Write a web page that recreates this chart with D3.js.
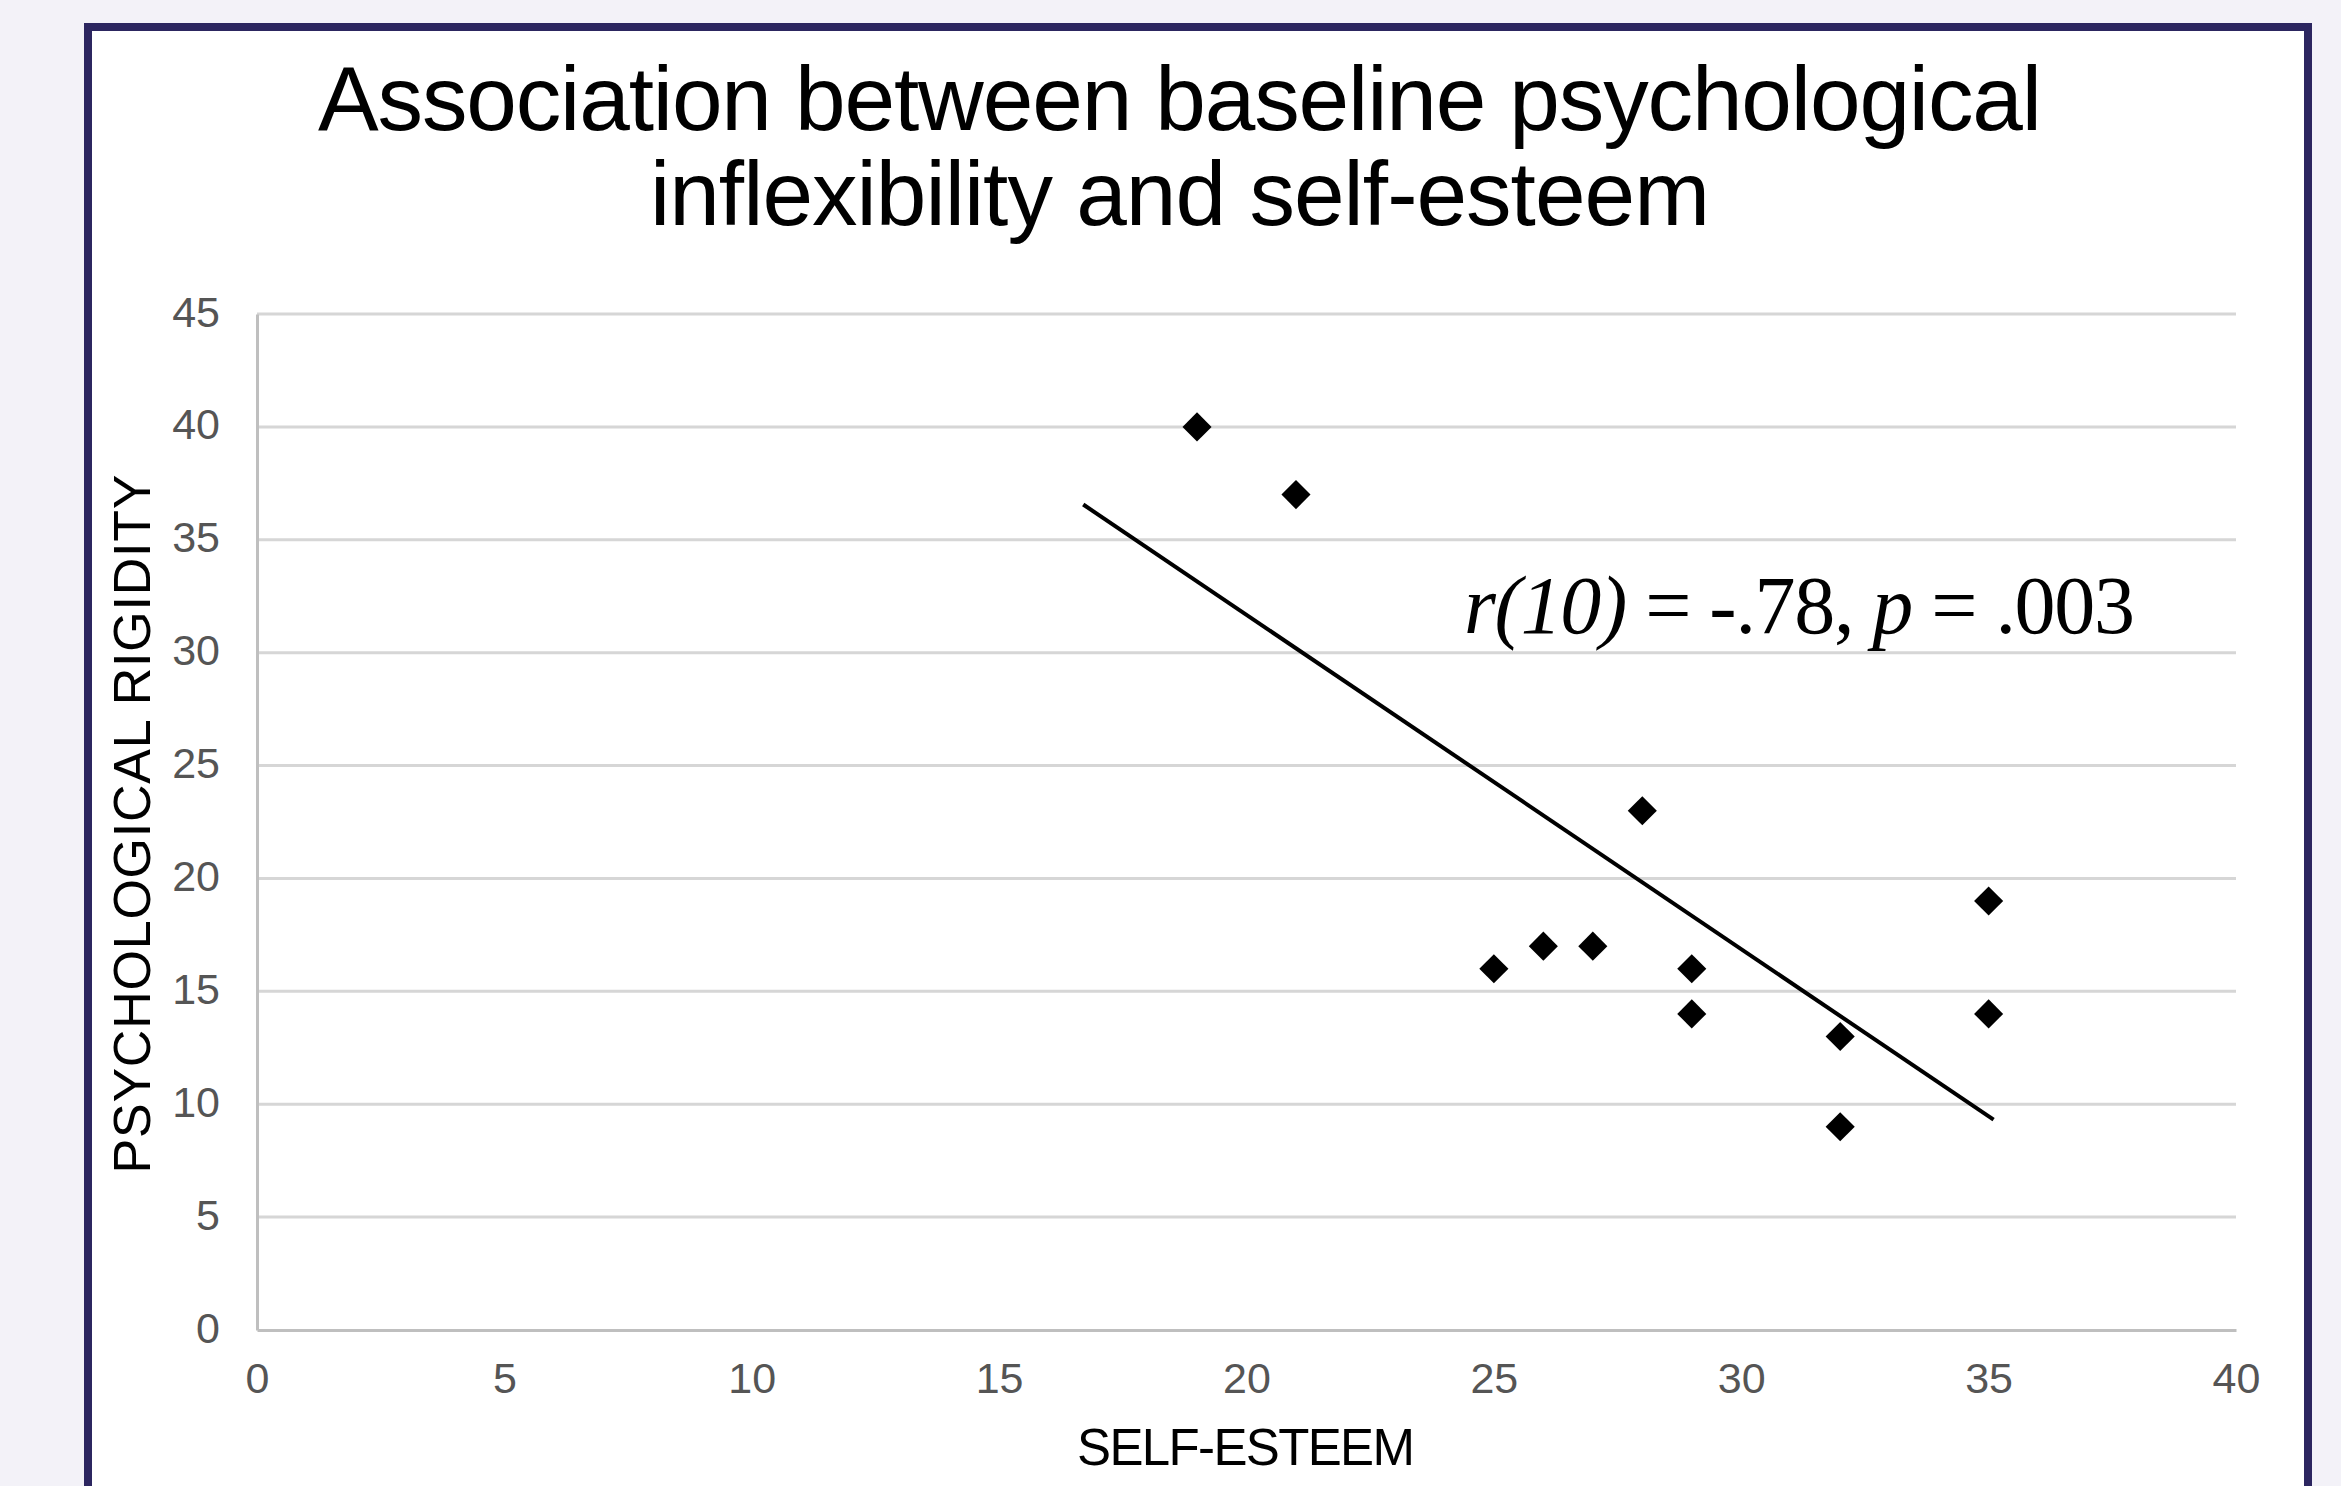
<!DOCTYPE html>
<html>
<head>
<meta charset="utf-8">
<script src="https://cdn.jsdelivr.net/npm/d3@7"></script>
<style>
  body { margin: 0; background: #f3f2f8; }
  svg { display: block; }
</style>
</head>
<body>
<div id="chart"></div>
<script>
// data
const selfEsteem = [19, 21, 25, 26, 27, 28, 29, 29, 32, 32, 35, 35];
const rigidity   = [40, 37, 16, 17, 17, 23, 16, 14, 13, 9, 19, 14];
const xTicks = [0, 5, 10, 15, 20, 25, 30, 35, 40];
const yTicks = [0, 5, 10, 15, 20, 25, 30, 35, 40, 45];
const trendRange = [16.7, 35.1];
const titleLines = ["Association between baseline psychological", "inflexibility and self-esteem"];

const width = 2341, height = 1486;

const svg = d3.select("#chart")
    .append("svg")
    .attr("width", width)
    .attr("height", height);

// frame
svg.append("rect")
    .attr("x", 88).attr("y", 27)
    .attr("width", 2220).attr("height", 1520)
    .attr("fill", "white")
    .attr("stroke", "#2c2660")
    .attr("stroke-width", 8);

const x = d3.scaleLinear().domain([0, 40]).range([257, 2236]);
const y = d3.scaleLinear().domain([0, 45]).range([1330, 314]);

// gridlines
svg.append("g")
    .selectAll("line")
    .data(yTicks.filter(d => d > 0))
    .join("line")
    .attr("x1", x(0)).attr("x2", x(40))
    .attr("y1", d => y(d)).attr("y2", d => y(d))
    .attr("stroke", "#d6d6d6")
    .attr("stroke-width", 3);

// axes
const xAxis = svg.append("g")
    .attr("transform", `translate(0,${y(0)})`)
    .call(d3.axisBottom(x).tickValues(xTicks).tickSize(0).tickPadding(32));
const yAxis = svg.append("g")
    .attr("transform", `translate(${x(0)},0)`)
    .call(d3.axisLeft(y).tickValues(yTicks).tickSize(0).tickPadding(37));

[xAxis, yAxis].forEach(a => {
    a.select(".domain").attr("stroke", "#bfbfbf").attr("stroke-width", 3);
    a.selectAll("text")
        .attr("fill", "#555555")
        .style("font-family", "'Liberation Sans', Arial, sans-serif")
        .style("font-size", "43px");
});
xAxis.selectAll("text").attr("dy", "0.71em");
yAxis.selectAll("text").attr("dy", "0.28em");

// trend line (least squares on the points)
const mx = d3.mean(selfEsteem), my = d3.mean(rigidity);
const sxy = d3.sum(selfEsteem, (v, i) => (v - mx) * (rigidity[i] - my));
const sxx = d3.sum(selfEsteem, v => (v - mx) * (v - mx));
const slope = sxy / sxx, intercept = my - slope * mx;

svg.append("path")
    .datum(trendRange)
    .attr("d", d3.line().x(d => x(d)).y(d => y(intercept + slope * d)))
    .attr("stroke", "black")
    .attr("stroke-width", 4)
    .attr("fill", "none");

// points
svg.append("g")
    .selectAll("path")
    .data(selfEsteem)
    .join("path")
    .attr("transform", (d, i) => `translate(${x(d)},${y(rigidity[i])})`)
    .attr("d", d3.symbol(d3.symbolDiamond2, 540))
    .attr("fill", "black");

// title
svg.append("g")
    .selectAll("text")
    .data(titleLines)
    .join("text")
    .attr("x", 1180)
    .attr("y", (d, i) => 130 + i * 95)
    .attr("text-anchor", "middle")
    .attr("textLength", (d, i) => i === 0 ? 1724 : 1060)
    .attr("lengthAdjust", "spacing")
    .style("font-family", "'Liberation Sans', Arial, sans-serif")
    .style("font-size", "91px")
    .attr("fill", "black")
    .text(d => d);

// axis titles
svg.append("text")
    .attr("x", 1246).attr("y", 1465)
    .attr("text-anchor", "middle")
    .attr("textLength", 338)
    .attr("lengthAdjust", "spacing")
    .style("font-family", "'Liberation Sans', Arial, sans-serif")
    .style("font-size", "51px")
    .text("SELF-ESTEEM");

svg.append("text")
    .attr("transform", "translate(150,824) rotate(-90)")
    .attr("text-anchor", "middle")
    .attr("textLength", 699)
    .attr("lengthAdjust", "spacing")
    .style("font-family", "'Liberation Sans', Arial, sans-serif")
    .style("font-size", "52px")
    .text("PSYCHOLOGICAL RIGIDITY");

// correlation note
const note = svg.append("text")
    .attr("x", 1464).attr("y", 633)
    .attr("textLength", 671)
    .attr("lengthAdjust", "spacing")
    .style("font-family", "'Liberation Serif', 'Times New Roman', serif")
    .style("font-size", "82px");
note.append("tspan").style("font-style", "italic").text("r(10)");
note.append("tspan").text(" = -.78, ");
note.append("tspan").style("font-style", "italic").text("p");
note.append("tspan").text(" = .003");
</script>
</body>
</html>
